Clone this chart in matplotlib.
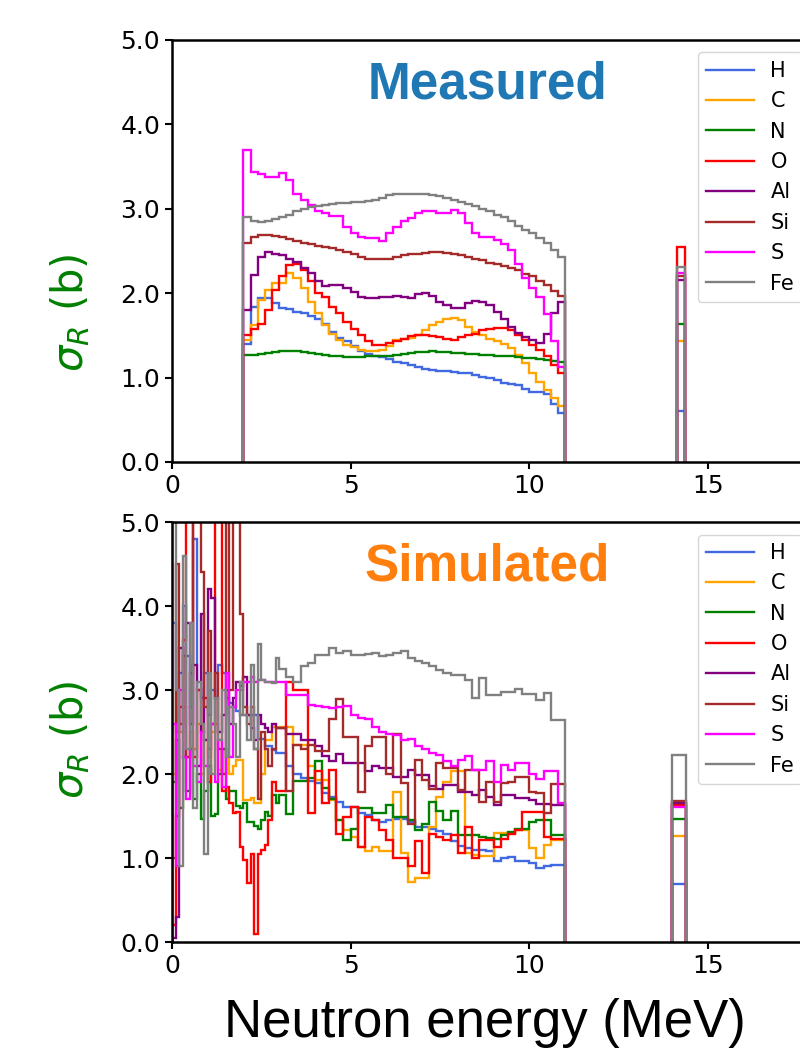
import numpy as np
import matplotlib
matplotlib.use('Agg')
import matplotlib.pyplot as plt

elements = ['H', 'C', 'N', 'O', 'Al', 'Si', 'S', 'Fe']
colors = ['royalblue', 'orange', 'green', 'red', 'purple', 'brown', 'magenta', 'gray']

# bin edges (MeV): 0.2 MeV bins 2-11
meas_edges = np.round(np.arange(2.0, 11.01, 0.2), 1)
# simulated: 0.1 MeV bins 0-3, 0.2 MeV bins 3-11
sim_edges = np.concatenate([np.round(np.arange(0.0, 3.01, 0.1), 1),
                            np.round(np.arange(3.2, 11.01, 0.2), 1)])
# the separate 14 MeV bin
meas_edges_14 = [14.15, 14.35]
sim_edges_14 = [14.0, 14.4]

# measured cross sections (b), 2-11 MeV
meas_H = [1.40, 1.84, 1.94, 1.94, 1.88, 1.83, 1.81, 1.78, 1.77, 1.73,
          1.69, 1.63, 1.54, 1.47, 1.43, 1.38, 1.32, 1.28, 1.25, 1.24,
          1.22, 1.19, 1.17, 1.15, 1.12, 1.10, 1.09, 1.08, 1.08, 1.07,
          1.06, 1.05, 1.03, 1.01, 1.00, 0.97, 0.94, 0.93, 0.91, 0.87,
          0.83, 0.83, 0.81, 0.69, 0.58]
meas_C = [1.45, 1.62, 1.92, 2.04, 2.12, 2.12, 2.24, 2.18, 2.06, 1.90,
          1.76, 1.62, 1.52, 1.45, 1.39, 1.36, 1.33, 1.32, 1.31, 1.33,
          1.38, 1.44, 1.46, 1.47, 1.50, 1.56, 1.62, 1.66, 1.70, 1.71,
          1.68, 1.60, 1.54, 1.50, 1.46, 1.43, 1.40, 1.35, 1.27, 1.17,
          1.05, 0.95, 0.85, 0.76, 0.66]
meas_N = [1.27, 1.27, 1.28, 1.29, 1.30, 1.31, 1.31, 1.31, 1.30, 1.29,
          1.28, 1.27, 1.26, 1.25, 1.24, 1.24, 1.24, 1.25, 1.25, 1.25,
          1.26, 1.27, 1.28, 1.29, 1.30, 1.30, 1.31, 1.30, 1.30, 1.29,
          1.29, 1.28, 1.28, 1.27, 1.27, 1.26, 1.26, 1.25, 1.24, 1.23,
          1.23, 1.22, 1.21, 1.20, 1.19]
meas_O = [1.50, 1.58, 1.64, 1.80, 2.04, 2.20, 2.33, 2.35, 2.28, 2.14,
          2.00, 1.96, 1.84, 1.76, 1.66, 1.58, 1.50, 1.43, 1.39, 1.39,
          1.41, 1.43, 1.46, 1.49, 1.50, 1.50, 1.49, 1.48, 1.46, 1.45,
          1.48, 1.50, 1.52, 1.56, 1.58, 1.59, 1.59, 1.56, 1.50, 1.45,
          1.39, 1.33, 1.25, 1.15, 1.05]
meas_Al = [1.80, 2.22, 2.43, 2.49, 2.47, 2.45, 2.40, 2.37, 2.30, 2.24,
           2.14, 2.08, 2.10, 2.10, 2.06, 2.01, 1.96, 1.94, 1.94, 1.95,
           1.96, 1.97, 1.95, 1.94, 1.99, 2.00, 1.97, 1.90, 1.86, 1.83,
           1.82, 1.88, 1.91, 1.90, 1.86, 1.78, 1.70, 1.60, 1.53, 1.48,
           1.44, 1.41, 1.52, 1.76, 1.90]
meas_Si = [2.60, 2.67, 2.69, 2.69, 2.68, 2.66, 2.64, 2.62, 2.60, 2.58,
           2.56, 2.55, 2.53, 2.51, 2.49, 2.46, 2.43, 2.41, 2.40, 2.40,
           2.41, 2.43, 2.45, 2.46, 2.47, 2.48, 2.49, 2.49, 2.48, 2.46,
           2.45, 2.43, 2.41, 2.39, 2.36, 2.35, 2.32, 2.30, 2.27, 2.23,
           2.20, 2.15, 2.10, 2.03, 1.97]
meas_S = [3.70, 3.44, 3.41, 3.38, 3.38, 3.43, 3.34, 3.18, 3.10, 3.05,
          2.97, 2.95, 2.91, 2.91, 2.79, 2.71, 2.67, 2.65, 2.65, 2.62,
          2.71, 2.78, 2.85, 2.89, 2.95, 2.97, 2.97, 2.95, 2.95, 2.99,
          2.95, 2.83, 2.71, 2.67, 2.66, 2.63, 2.58, 2.51, 2.35, 2.18,
          2.06, 1.96, 1.75, 1.43, 1.12]
meas_Fe = [2.90, 2.86, 2.84, 2.85, 2.88, 2.90, 2.93, 2.97, 3.00, 3.02,
           3.03, 3.04, 3.06, 3.07, 3.07, 3.08, 3.08, 3.09, 3.11, 3.13,
           3.16, 3.18, 3.18, 3.18, 3.17, 3.17, 3.16, 3.15, 3.13, 3.11,
           3.08, 3.06, 3.03, 3.00, 2.97, 2.93, 2.90, 2.85, 2.80, 2.75,
           2.71, 2.65, 2.59, 2.51, 2.43]
# 14 MeV bin, same element order
meas_14 = [0.60, 1.43, 1.63, 2.55, 2.16, 2.20, 2.24, 2.31]

# simulated cross sections (b): 0-3 MeV (0.1 bins) and 3-11 MeV (0.2 bins)
sim_H = [3.8, 2.5, 3.2, 4.0, 3.4, 2.8, 4.8, 3.0, 2.9, 3.2,
         2.7, 3.0, 2.9, 3.3, 3.2, 2.9, 2.85, 2.8, 2.75, 2.7,
         2.7, 2.7, 2.7, 2.7, 2.42, 2.42, 2.33, 2.33, 2.28, 2.25,
         2.25, 2.09, 2.00, 1.95, 1.92, 1.89, 1.77, 1.73, 1.67, 1.61,
         1.61, 1.53, 1.51, 1.45, 1.43, 1.45, 1.47, 1.47, 1.43, 1.37,
         1.37, 1.34, 1.32, 1.28, 1.20, 1.14, 1.12, 1.10, 1.09, 1.08,
         0.96, 1.00, 1.01, 0.96, 0.96, 0.94, 0.88, 0.90, 0.92, 0.92]
sim_C = [2.0, 3.0, 2.5, 2.8, 2.2, 2.5, 2.3, 2.6, 2.0, 2.4,
         2.2, 2.5, 2.6, 2.05, 2.3, 2.2, 2.0, 2.1, 2.17, 2.17,
         1.69, 1.69, 1.72, 1.65, 1.65, 2.0, 2.4, 2.4, 2.56, 2.56,
         2.56, 2.56, 2.35, 2.35, 2.10, 1.93, 1.93, 1.69, 1.45, 1.33,
         1.25, 1.13, 1.08, 1.13, 1.08, 1.08, 1.79, 1.06, 0.72, 0.76,
         0.76, 1.37, 1.73, 1.91, 2.03, 2.03, 1.06, 1.04, 1.02, 1.02,
         1.30, 1.30, 1.30, 1.33, 1.33, 1.12, 1.00, 1.15, 1.21, 1.21]
sim_N = [1.9, 2.4, 1.6, 2.2, 1.8, 2.3, 1.7, 2.0, 1.47, 1.8,
         2.1, 1.5, 1.52, 2.0, 2.3, 1.7, 1.8, 1.8, 1.62, 1.60,
         1.65, 1.43, 1.43, 1.38, 1.35, 1.45, 1.55, 1.5, 1.75, 1.65,
         1.75, 1.52, 1.92, 1.92, 1.95, 2.16, 1.83, 1.70, 1.45, 1.21,
         1.35, 1.59, 1.59, 1.53, 1.53, 1.63, 1.49, 1.49, 1.45, 1.33,
         1.40, 1.67, 1.56, 1.45, 1.56, 1.27, 1.27, 1.27, 1.25, 1.24,
         1.23, 1.27, 1.31, 1.35, 1.35, 1.43, 1.45, 1.45, 1.27, 1.27]
sim_O = [0.2, 1.5, 2.8, 3.6, 5.5, 5.5, 2.2, 3.0, 2.5, 2.9,
         1.9, 2.6, 5.5, 5.5, 1.8, 1.85, 1.65, 1.53, 1.55, 1.13,
         0.98, 0.70, 1.05, 0.10, 1.05, 1.10, 1.15, 1.45, 1.90, 1.80,
         1.80, 3.10, 3.00, 3.00, 1.53, 2.03, 1.65, 2.05, 1.29, 1.49,
         1.61, 1.13, 1.49, 1.45, 1.33, 1.21, 1.00, 1.00, 0.90, 1.20,
         0.82, 1.29, 1.25, 1.21, 1.27, 1.06, 1.37, 1.00, 1.21, 1.21,
         1.13, 1.23, 1.29, 1.33, 1.55, 1.55, 1.55, 1.25, 1.23, 1.23]
sim_Al = [0.05, 0.3, 3.5, 2.2, 3.8, 2.6, 3.3, 2.1, 3.9, 2.4,
          4.2, 4.1, 2.9, 2.5, 2.7, 3.0, 2.6, 2.9, 3.1, 3.05,
          3.15, 2.7, 2.55, 2.4, 2.7, 2.6, 2.55, 2.5, 2.6, 2.55,
          2.55, 2.48, 2.48, 2.40, 2.40, 2.33, 2.21, 2.15, 2.24, 2.13,
          2.13, 2.13, 2.03, 2.09, 2.07, 2.07, 1.97, 1.97, 2.05, 1.99,
          1.99, 1.86, 1.82, 1.87, 1.87, 1.79, 1.79, 1.75, 1.81, 1.73,
          1.63, 1.75, 1.75, 1.71, 1.71, 1.69, 1.64, 1.64, 1.63, 1.63]
sim_Si = [1.0, 4.5, 2.6, 3.4, 2.2, 3.2, 5.5, 5.5, 4.4, 2.8,
          3.7, 2.6, 3.2, 2.3, 2.0, 5.5, 3.0, 5.5, 5.5, 3.9,
          2.8, 2.6, 2.8, 2.3, 1.7, 2.5, 2.3, 2.1, 2.3, 2.55,
          2.55, 1.80, 2.35, 2.30, 2.35, 2.27, 2.27, 2.66, 2.89, 2.44,
          2.44, 1.79, 2.33, 2.44, 2.44, 2.00, 2.48, 1.89, 1.41, 2.17,
          1.93, 1.82, 2.13, 2.07, 2.07, 1.81, 2.05, 2.05, 1.67, 1.91,
          1.67, 1.89, 1.91, 1.97, 1.97, 1.79, 1.77, 1.53, 1.88, 1.88]
sim_S = [2.6, 0.9, 3.0, 2.2, 1.7, 2.8, 2.1, 1.9, 2.5, 2.1,
         2.3, 2.6, 1.9, 2.4, 1.85, 3.2, 2.2, 2.8, 3.0, 3.0,
         3.1, 3.1, 3.15, 3.1, 3.12, 3.12, 3.09, 3.09, 3.09, 3.09,
         3.09, 2.94, 2.94, 2.94, 2.82, 2.81, 2.80, 2.78, 2.80, 2.81,
         2.70, 2.67, 2.66, 2.56, 2.50, 2.48, 2.46, 2.40, 2.42, 2.33,
         2.30, 2.25, 2.23, 2.15, 2.09, 2.17, 2.21, 2.05, 2.05, 2.15,
         1.91, 2.11, 2.05, 2.13, 2.13, 2.00, 1.94, 2.04, 2.04, 1.66]
sim_Fe = [5.2, 3.0, 0.9, 4.6, 2.3, 3.8, 1.6, 3.1, 2.6, 1.05,
          3.2, 2.0, 2.9, 2.4, 3.0, 2.2, 2.8, 2.6, 2.2, 3.1,
          2.7, 2.4, 3.3, 2.3, 3.55, 3.12, 3.10, 3.10, 3.08, 3.38,
          3.25, 3.16, 3.10, 3.28, 3.32, 3.42, 3.42, 3.50, 3.44, 3.46,
          3.42, 3.42, 3.43, 3.44, 3.40, 3.42, 3.44, 3.46, 3.38, 3.34,
          3.32, 3.28, 3.24, 3.20, 3.18, 3.18, 3.12, 2.91, 3.14, 2.94,
          2.94, 2.98, 2.98, 3.01, 2.95, 2.95, 2.88, 2.97, 2.64, 2.64]
sim_14 = [0.69, 1.26, 1.47, 1.63, 1.66, 1.68, 1.61, 2.23]

meas = [meas_H, meas_C, meas_N, meas_O, meas_Al, meas_Si, meas_S, meas_Fe]
sim = [sim_H, sim_C, sim_N, sim_O, sim_Al, sim_Si, sim_S, sim_Fe]

W, H = 800, 1051
fig = plt.figure(figsize=(W / 100, H / 100), dpi=100)
x0, x1 = 172, 815
ax1 = fig.add_axes([x0 / W, 1 - 462 / H, (x1 - x0) / W, 422 / H])
ax2 = fig.add_axes([x0 / W, 1 - 942 / H, (x1 - x0) / W, 420 / H])


def draw(ax, edges, edges14, series, peak, title, tcolor, lab_y):
    for vals, p, el, c in zip(series, peak, elements, colors):
        ax.stairs(vals, edges, baseline=0, color=c, lw=1.7, label=el)
        ax.stairs([p], edges14, baseline=0, color=c, lw=1.7)
    ax.set_xlim(0, 18)
    ax.set_ylim(0, 5)
    ax.set_xticks([0, 5, 10, 15])
    ax.set_yticks([0, 1, 2, 3, 4, 5])
    ax.set_yticklabels(['%.1f' % v for v in range(6)])
    ax.tick_params(labelsize=18, width=1.5, length=5)
    for s in ax.spines.values():
        s.set_linewidth(1.8)
    ax.text(0.49, 0.893, title, transform=ax.transAxes, ha='center', va='center',
            fontsize=37, fontweight='bold', color=tcolor, family='Liberation Sans')
    ax.set_ylabel(r'$\sigma_R$ (b)', fontsize=30, color='green')
    ax.yaxis.set_label_coords(-0.124, lab_y)
    ax.legend(loc='upper right', fontsize=15, handlelength=2.3, borderaxespad=0.6)


draw(ax1, meas_edges, meas_edges_14, meas, meas_14, 'Measured', '#1f77b4', 0.353)
draw(ax2, sim_edges, sim_edges_14, sim, sim_14, 'Simulated', '#ff7f0e', 0.481)

ax2.set_xlabel('Neutron energy (MeV)', fontsize=38, family='Liberation Sans')
ax2.xaxis.set_label_coords(0.487, -0.133)

fig.savefig('out.png', dpi=100)
